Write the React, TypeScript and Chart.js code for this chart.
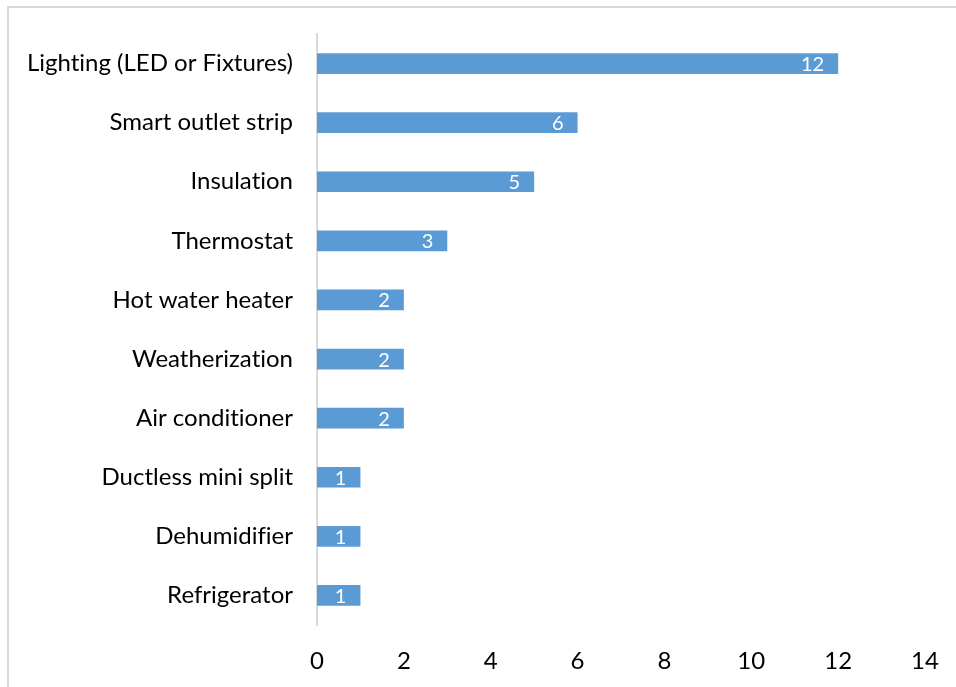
import React, { useEffect, useRef } from "react";
import { Chart, registerables } from "chart.js";

Chart.register(...registerables);

const categories = [
  "Lighting (LED or Fixtures)",
  "Smart outlet strip",
  "Insulation",
  "Thermostat",
  "Hot water heater",
  "Weatherization",
  "Air conditioner",
  "Ductless mini split",
  "Dehumidifier",
  "Refrigerator",
];
const values = [12, 6, 5, 3, 2, 2, 2, 1, 1, 1];
const xTicks = [0, 2, 4, 6, 8, 10, 12, 14];

const FONT = "Lato, 'Liberation Sans', sans-serif";

const noLigaturePlugin = {
  id: "noLigatures",
  beforeDraw(chart: any) {
    try {
      chart.ctx.textRendering = "optimizeSpeed";
    } catch (e) {
      /* ignore */
    }
  },
};

const labelPlugin = {
  id: "barLabels",
  afterDatasetsDraw(chart: any) {
    const ctx = chart.ctx;
    const meta = chart.getDatasetMeta(0);
    ctx.save();
    ctx.fillStyle = "#ffffff";
    ctx.font = `20px ${FONT}`;
    ctx.textAlign = "right";
    ctx.textBaseline = "middle";
    meta.data.forEach((bar: any, i: number) => {
      ctx.fillText(String(values[i]), bar.x - 14, bar.y + 1);
    });
    ctx.restore();
  },
};

export default function App() {
  const ref = useRef<HTMLCanvasElement>(null);
  useEffect(() => {
    if (!ref.current) return;
    const chart = new Chart(ref.current, {
      type: "bar",
      data: {
        labels: categories,
        datasets: [
          {
            data: values,
            backgroundColor: "#5b9bd5",
            borderWidth: 0,
            barPercentage: 0.35,
            categoryPercentage: 1,
          },
        ],
      },
      options: {
        indexAxis: "y",
        responsive: false,
        animation: false,
        layout: { padding: { left: 0, top: 26, right: 31, bottom: 0 } },
        plugins: { legend: { display: false }, tooltip: { enabled: false } },
        scales: {
          x: {
            min: 0,
            max: 14,
            afterBuildTicks: (s: any) => {
              s.ticks = xTicks.map((v) => ({ value: v }));
            },
            afterFit: (s: any) => {
              s.height = 62;
              s.paddingLeft = 0;
              s.paddingRight = 0;
            },
            grid: { display: false, drawTicks: false },
            border: { display: false },
            ticks: {
              color: "#000000",
              font: { family: FONT, size: 24 },
              padding: 22,
            },
          },
          y: {
            afterFit: (s: any) => {
              s.width = 308;
              s.paddingTop = 0;
              s.paddingBottom = 0;
            },
            grid: { display: false, drawTicks: false },
            border: { display: true, color: "#d9d9d9", width: 2 },
            ticks: {
              color: "#000000",
              font: { family: FONT, size: 24 },
              padding: 24,
            },
          },
        },
      },
      plugins: [noLigaturePlugin, labelPlugin],
    });
    return () => chart.destroy();
  }, []);
  return (
    <div
      style={{
        position: "fixed",
        inset: 0,
        overflow: "hidden",
        background: "#fff",
      }}
    >
      <div
        style={{
          position: "absolute",
          left: 7,
          top: 6,
          width: 970,
          height: 700,
          borderTop: "2px solid #d9d9d9",
          borderLeft: "2px solid #d9d9d9",
          boxSizing: "border-box",
        }}
      >
        <canvas
          ref={ref}
          width={947}
          height={679}
          style={{ display: "block" }}
        />
      </div>
    </div>
  );
}
